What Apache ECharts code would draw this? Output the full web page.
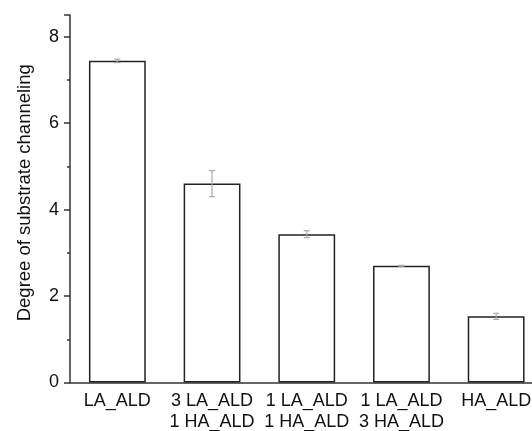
<!DOCTYPE html>
<html><head><meta charset="utf-8">
<script src="https://cdn.jsdelivr.net/npm/echarts@6/dist/echarts.min.js"></script>
<style>html,body{margin:0;padding:0;background:#fff}#c{width:532px;height:431px}</style>
</head><body><div id="c"></div>
<script>
var categories = ['LA_ALD', '3 LA_ALD\n1 HA_ALD', '1 LA_ALD\n1 HA_ALD', '1 LA_ALD\n3 HA_ALD', 'HA_ALD'];
var values = [7.44, 4.60, 3.43, 2.70, 1.53];
var errors = [0.04, 0.30, 0.08, 0.01, 0.07];
var yTicks = [0, 2, 4, 6, 8];

var chart = echarts.init(document.getElementById('c'));
var font = 'Liberation Sans, Arial, sans-serif';
chart.setOption({
  backgroundColor: '#fff',
  animation: false,
  grid: {left: 70, top: 15, width: 473.5, bottom: 48.5, outerBoundsMode: 'none', containLabel: false},
  xAxis: [{
    type: 'category', data: categories,
    axisLine: {lineStyle: {color: '#333', width: 1.5}},
    axisTick: {alignWithLabel: true, length: 6, lineStyle: {color: '#333', width: 1.5}},
    axisLabel: {color: '#111', fontFamily: font, fontSize: 18, lineHeight: 21, margin: 8, interval: 0}
  }, {
    type: 'category', data: categories, position: 'bottom',
    axisLine: {show: false},
    axisTick: {length: 3, lineStyle: {color: '#333', width: 1.5}},
    axisLabel: {show: false}
  }],
  yAxis: {
    type: 'value', min: 0, max: 8.5, interval: 2,
    name: 'Degree of substrate channeling', nameLocation: 'middle', nameGap: 36,
    nameTextStyle: {color: '#111', fontFamily: font, fontSize: 18.5, padding: [0, 0, 0, 12]},
    axisLine: {show: true, lineStyle: {color: '#333', width: 1.5}},
    axisTick: {show: true, length: 6, lineStyle: {color: '#333', width: 1.5}},
    minorTick: {show: true, splitNumber: 2, length: 3, lineStyle: {color: '#333', width: 1.5}},
    splitLine: {show: false},
    axisLabel: {color: '#111', fontFamily: font, fontSize: 18, margin: 11,
      formatter: function (v) { return yTicks.indexOf(v) >= 0 ? String(v) : ''; }}
  },
  series: [{
    type: 'bar', data: values, barWidth: '60%',
    itemStyle: {color: '#fff', borderColor: '#222', borderWidth: 1.5}
  }, {
    type: 'custom',
    data: values.map(function (v, i) { return [i, v - errors[i], v + errors[i]]; }),
    renderItem: function (params, api) {
      var lo = api.coord([api.value(0), api.value(1)]);
      var hi = api.coord([api.value(0), api.value(2)]);
      var w = 3;
      var st = {stroke: '#aaa', lineWidth: 1.2};
      return {type: 'group', children: [
        {type: 'line', shape: {x1: lo[0], y1: lo[1], x2: hi[0], y2: hi[1]}, style: st},
        {type: 'line', shape: {x1: lo[0] - w, y1: lo[1], x2: lo[0] + w, y2: lo[1]}, style: st},
        {type: 'line', shape: {x1: hi[0] - w, y1: hi[1], x2: hi[0] + w, y2: hi[1]}, style: st}
      ]};
    },
    encode: {x: 0, y: [1, 2]}, z: 5
  }]
});
</script></body></html>
